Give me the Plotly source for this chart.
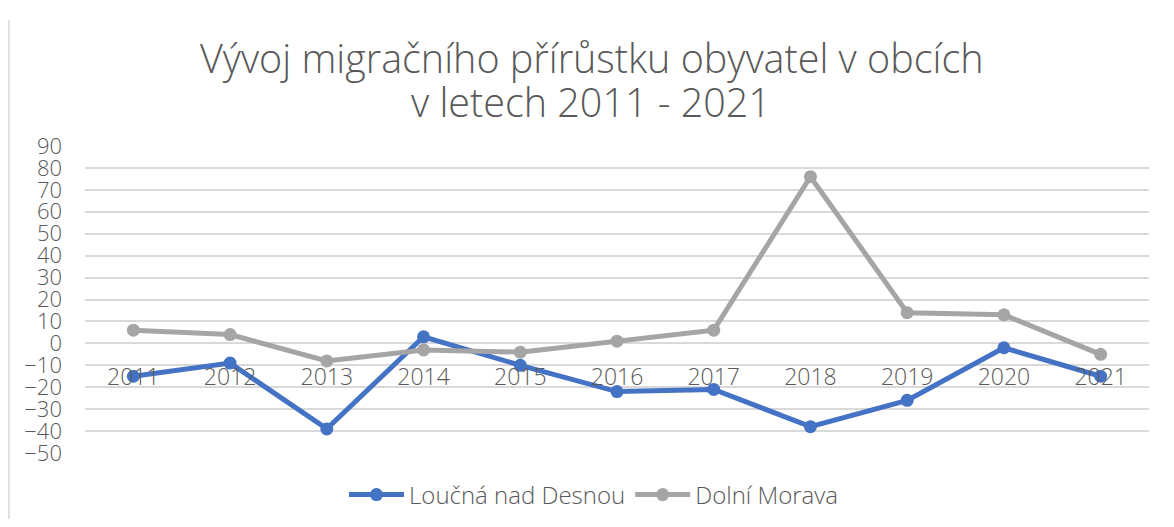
import plotly.graph_objects as go

years = ["2011", "2012", "2013", "2014", "2015", "2016", "2017", "2018", "2019", "2020", "2021"]
loucna = [-15, -9, -39, 3, -10, -22, -21, -38, -26, -2, -15]
dolni = [6, 4, -8, -3, -4, 1, 6, 76, 14, 13, -5]
y_ticks = list(range(-50, 100, 10))

title_line1 = "Vývoj migračního přírůstku obyvatel v obcích"
title_line2 = "v letech 2011 - 2021"
font_family = "Open Sans, Lato, DejaVu Sans, sans-serif"
text_color = "#595959"

fig = go.Figure()
fig.add_trace(go.Scatter(
    x=years, y=loucna, name="Loučná nad Desnou", mode="lines+markers",
    line=dict(color="#4472C4", width=5), marker=dict(size=13, color="#4472C4"),
))
fig.add_trace(go.Scatter(
    x=years, y=dolni, name="Dolní Morava", mode="lines+markers",
    line=dict(color="#A5A5A5", width=5), marker=dict(size=13, color="#A5A5A5"),
))

y_min, y_max = -50, 90
zero_pos = (0 - y_min) / (y_max - y_min)

# figure is placed 8px from the page edge (body margin)
W, H = 1158, 511
L, R, T, B = 77, 17, 138, 66
pw, ph = W - L - R, H - T - B


def py(page_y):
    return (H - B - (page_y - 8)) / ph


def px(page_x):
    return (page_x - 8 - L) / pw


fig.update_layout(
    width=W, height=H,
    margin=dict(l=L, r=R, t=T, b=B, autoexpand=False),
    paper_bgcolor="white", plot_bgcolor="white",
    font=dict(family=font_family, color=text_color, size=22, weight=300),
    hovermode=False,
    showlegend=True,
    legend=dict(orientation="h", x=px(594), xanchor="center", y=py(495), yanchor="middle",
                font=dict(size=24, color=text_color, weight=300), tracegroupgap=0,
                itemwidth=55),
    xaxis=dict(type="category", range=[-0.5, len(years) - 0.5], showgrid=False, showline=False,
               zeroline=False, anchor="free", position=zero_pos, ticks="", automargin=False,
               tickfont=dict(size=23, color=text_color, weight=300),
               ticklabelstandoff=18),
    yaxis=dict(range=[y_min, y_max], tickvals=y_ticks, showgrid=True, gridcolor="#D9D9D9",
               gridwidth=1.5, zeroline=False, showline=False, ticks="", automargin=False,
               tickfont=dict(size=22, color=text_color, weight=300), ticklabelstandoff=22),
    annotations=[
        dict(text=title_line1, xref="paper", yref="paper", x=px(591), y=py(58),
             xanchor="center", yanchor="middle", showarrow=False,
             font=dict(size=39.5, color=text_color, family=font_family, weight=300)),
        dict(text=title_line2, xref="paper", yref="paper", x=px(591), y=py(102),
             xanchor="center", yanchor="middle", showarrow=False,
             font=dict(size=39.5, color=text_color, family=font_family, weight=300)),
    ],
    shapes=[dict(type="line", xref="paper", yref="paper", x0=px(9), x1=px(9), y0=py(527), y1=py(20),
                 line=dict(color="#D9D9D9", width=1.5))],
)

fig.write_html("out.html")
